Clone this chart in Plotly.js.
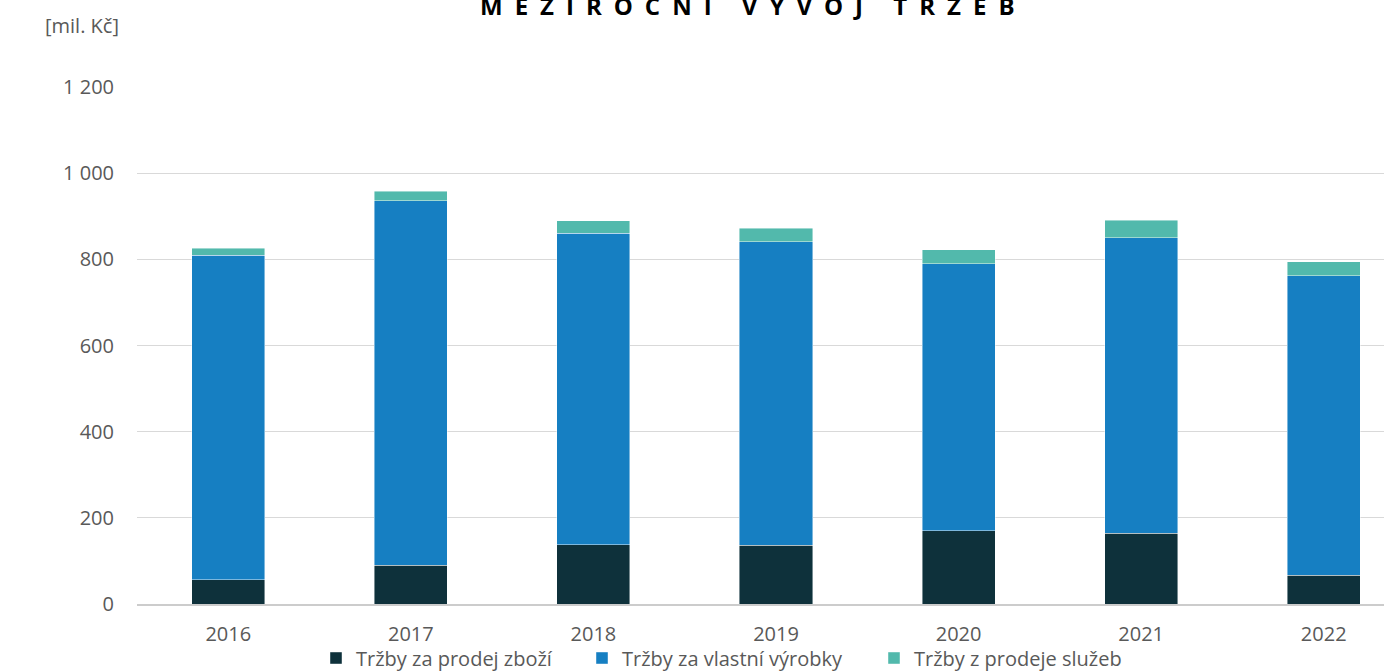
<!DOCTYPE html>
<html>
<head>
<meta charset="utf-8">
<script src="https://cdn.plot.ly/plotly-3.0.1.min.js"></script>
<style>
html,body{margin:0;padding:0;overflow:hidden;background:#fff;}
#chart{width:1420px;height:671px;}
</style>
</head>
<body>
<div id="chart"></div>
<script>
var years = ["2016","2017","2018","2019","2020","2021","2022"];
var trzbyZbozi = [56, 90, 138, 136, 170, 164, 67];
var trzbyVyrobky = [754, 846, 722, 705, 620, 686, 695];
var trzbySluzby = [16, 22, 29, 31, 32, 41, 32];
var seriesNames = ["Tržby za prodej zboží", "Tržby za vlastní výrobky", "Tržby z prodeje služeb"];
var yTicks = [0, 200, 400, 600, 800, 1000, 1200];
var yTickText = ["0", "200", "400", "600", "800", "1 000", "1 200"];
var titleText = "M\u2002E\u2002Z\u2002I\u2002R\u2002O\u2002Č\u2002N\u2002Í\u2002 \u2002V\u2002Ý\u2002V\u2002O\u2002J\u2002 \u2002T\u2002R\u2002Ž\u2002E\u2002B";
var unitText = "[mil. Kč]";

var font = "'Open Sans', 'DejaVu Sans', sans-serif";
var colors = ["#0E313B", "#167FC2", "#52B9AC"];
var lineStyle = {color: "rgba(255,255,255,0.55)", width: 0.8};
var legendIds = ["legend", "legend2", "legend3"];
var legendLeftPx = [316, 582, 874];

var traces = [trzbyZbozi, trzbyVyrobky, trzbySluzby].map(function(vals, i){
  return {
    type: "bar",
    x: years,
    y: vals,
    name: seriesNames[i],
    legend: legendIds[i],
    marker: {color: colors[i], line: lineStyle},
    hoverinfo: "x+y+name"
  };
});

var plotL = 137, plotW = 1278, plotT = 87, plotH = 517;

var layout = {
  width: 1420,
  height: 671,
  margin: {l: plotL, r: 5, t: plotT, b: 67, autoexpand: false},
  barmode: "stack",
  bargap: 0.6,
  paper_bgcolor: "#ffffff",
  plot_bgcolor: "#ffffff",
  font: {family: font, size: 20, color: "#595959"},
  xaxis: {
    type: "category",
    showgrid: false,
    showline: true,
    linecolor: "#cccccc",
    linewidth: 2,
    ticks: "",
    ticklabelstandoff: 11,
    tickfont: {family: font, size: 20, color: "#595959"},
    zeroline: false
  },
  yaxis: {
    range: [0, 1200],
    tickvals: yTicks,
    ticktext: yTickText,
    showgrid: true,
    gridcolor: "#d9d9d9",
    gridwidth: 1.3,
    zeroline: false,
    showline: false,
    ticks: "",
    ticklabelstandoff: 22,
    tickfont: {family: font, size: 20, color: "#595959"}
  },
  showlegend: true,
  annotations: [
    {
      text: "<b>" + titleText + "</b>",
      xref: "paper", yref: "paper",
      x: (747 - plotL) / plotW, y: 1 + (plotT - 6) / plotH,
      xanchor: "center", yanchor: "middle",
      showarrow: false,
      font: {family: font, size: 24, color: "#000000"}
    },
    {
      text: unitText,
      xref: "paper", yref: "paper",
      x: (121 - plotL) / plotW, y: 1 + (plotT - 26) / plotH,
      xanchor: "right", yanchor: "middle",
      showarrow: false,
      font: {family: font, size: 20, color: "#595959"}
    }
  ]
};

legendIds.forEach(function(id, i){
  layout[id] = {
    orientation: "h",
    x: (legendLeftPx[i] - plotL) / plotW,
    xanchor: "left",
    y: (plotT + plotH - 658) / plotH,
    yanchor: "middle",
    font: {family: font, size: 20, color: "#595959"},
    itemwidth: 30,
    bgcolor: "rgba(0,0,0,0)"
  };
});

Plotly.newPlot("chart", traces, layout, {displayModeBar: false, responsive: false});
</script>
</body>
</html>
